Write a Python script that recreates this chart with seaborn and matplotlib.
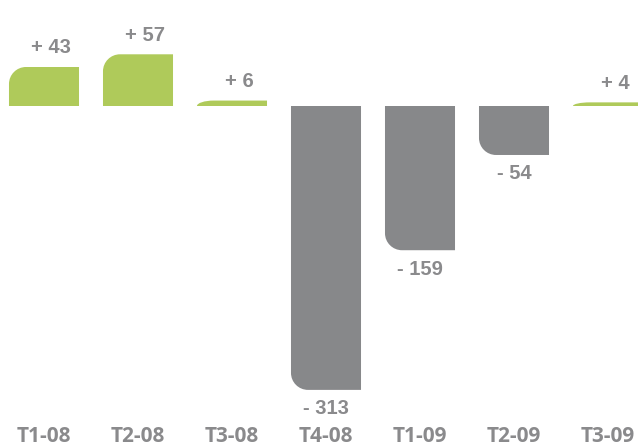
import numpy as np
import pandas as pd
import matplotlib
matplotlib.use("Agg")
import matplotlib.pyplot as plt
import seaborn as sns
from matplotlib.path import Path
from matplotlib.patches import PathPatch

categories = ["T1-08", "T2-08", "T3-08", "T4-08", "T1-09", "T2-09", "T3-09"]
values = [43, 57, 6, -313, -159, -54, 4]
labels = ["+ 43", "+ 57", "+ 6", "- 313", "- 159", "- 54", "+ 4"]

GREEN = "#afca5a"
GREY = "#87888a"
TEXT = "#8a8a8c"

df = pd.DataFrame({"cat": categories, "val": values})
df["sign"] = np.where(df["val"] >= 0, "pos", "neg")

sns.set_theme(style="white")
plt.rcParams["font.family"] = ["Liberation Sans", "DejaVu Sans"]

fig = plt.figure(figsize=(6.38, 4.48), dpi=100)
ax = fig.add_axes([0, 0, 1, 1])

sns.barplot(data=df, x="cat", y="val", hue="sign",
            palette={"pos": GREEN, "neg": GREY}, dodge=False,
            width=0.745, legend=False, ax=ax, saturation=1)

# scale: pixel mapping
px_per_cat = 94.0
px_per_unit = 0.907
base_px = 106.0
ax.set_xlim(-44 / px_per_cat, (638 - 44) / px_per_cat)
ax.set_ylim(-(448 - base_px) / px_per_unit, base_px / px_per_unit)

r_px = 17.0
rx = r_px / px_per_cat
ry_full = r_px / px_per_unit
k = 0.5523

bars = list(ax.patches)
for bar in bars:
    x0 = bar.get_x()
    w = bar.get_width()
    y0 = bar.get_y()
    h = bar.get_height()
    if w == 0 or h == 0:
        bar.remove()
        continue
    color = bar.get_facecolor()
    x1 = x0 + w
    v = y0 + h
    ry = min(ry_full, abs(h))
    s = 1 if h > 0 else -1
    verts = [
        (x0, y0),
        (x0, v - s * ry),
        (x0, v - s * ry + s * k * ry),
        (x0 + rx - k * rx, v),
        (x0 + rx, v),
        (x1, v),
        (x1, y0),
        (x0, y0),
    ]
    codes = [Path.MOVETO, Path.LINETO, Path.CURVE4, Path.CURVE4, Path.CURVE4,
             Path.LINETO, Path.LINETO, Path.CLOSEPOLY]
    bar.remove()
    ax.add_patch(PathPatch(Path(verts, codes), facecolor=color,
                           edgecolor="none", lw=0))

for i, (v, lab) in enumerate(zip(values, labels)):
    if v >= 0:
        ax.annotate(lab, (i, v), xytext=(7, 19), textcoords="offset pixels",
                    ha="center", va="center", fontsize=14.5,
                    fontweight="bold", color=TEXT)
    else:
        ax.annotate(lab, (i, v), xytext=(0, -19), textcoords="offset pixels",
                    ha="center", va="center", fontsize=14.5,
                    fontweight="bold", color=TEXT)

ymin = ax.get_ylim()[0]
for i, c in enumerate(categories):
    ax.annotate(c, (i, ymin), xytext=(0, 1), textcoords="offset pixels",
                ha="center", va="bottom", fontsize=15,
                fontweight="bold", color=TEXT, family=["Open Sans", "DejaVu Sans"],
                annotation_clip=False)

ax.set_xticks([])
ax.set_yticks([])
ax.set_xlabel("")
ax.set_ylabel("")
for sp in ax.spines.values():
    sp.set_visible(False)

fig.savefig("out.png", dpi=100)
